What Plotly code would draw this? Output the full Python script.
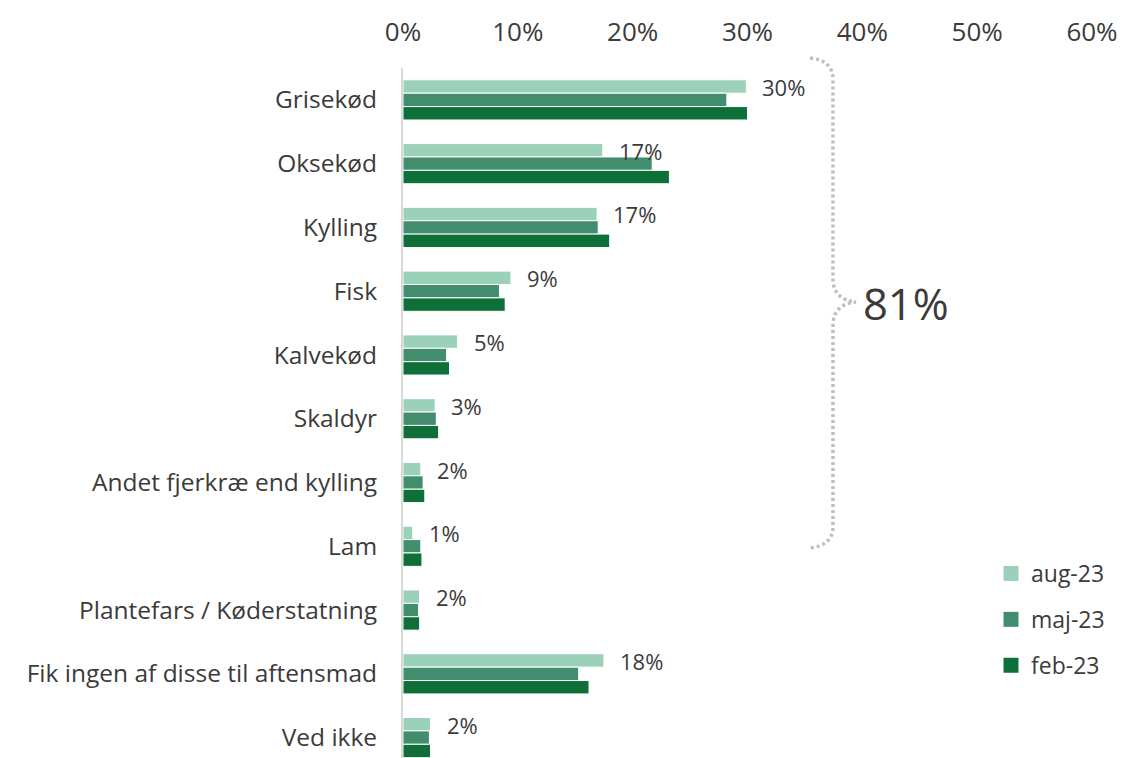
import plotly.graph_objects as go

categories = ["Grisekød", "Oksekød", "Kylling", "Fisk", "Kalvekød", "Skaldyr",
              "Andet fjerkræ end kylling", "Lam", "Plantefars / Køderstatning",
              "Fik ingen af disse til aftensmad", "Ved ikke"]
aug_23 = [29.9, 17.4, 16.9, 9.4, 4.75, 2.8, 1.55, 0.85, 1.45, 17.5, 2.4]
maj_23 = [28.2, 21.7, 17.0, 8.4, 3.8, 2.9, 1.75, 1.55, 1.35, 15.3, 2.3]
feb_23 = [30.0, 23.2, 18.0, 8.9, 4.05, 3.1, 1.9, 1.65, 1.45, 16.2, 2.4]
aug_labels = ["30%", "17%", "17%", "9%", "5%", "3%", "2%", "1%", "2%", "18%", "2%"]
x_ticks = [0, 10, 20, 30, 40, 50, 60]
x_tick_labels = ["0%", "10%", "20%", "30%", "40%", "50%", "60%"]
total_label = "81%"

# page geometry (browser window), page body has an 8px margin
PAGE_W, PAGE_H = 1127, 758
OFF = 8
W, H = PAGE_W - OFF, PAGE_H - OFF
L, R, T, B = 403, 35, 68, 0            # plot area in page pixels
PW, PH = PAGE_W - L - R, PAGE_H - T - B

def px(x):
    return (x - L) / PW

def py(y):
    return (PAGE_H - B - y) / PH

TXT = "#3b3b3b"
FONT = "Open Sans"

fig = go.Figure()
series = [("aug-23", aug_23, "#9bd1b9"), ("maj-23", maj_23, "#438d6f"), ("feb-23", feb_23, "#0e7038")]
for name, vals, col in series:
    fig.add_trace(go.Bar(
        y=categories, x=vals, name=name, orientation="h",
        marker=dict(color=col, line=dict(color="white", width=1)),
        showlegend=False,
    ))
for name, vals, col in series:
    fig.add_trace(go.Scatter(
        x=[None], y=[None], mode="markers", name=name, legendgroup=name,
        marker=dict(symbol="square", size=15, color=col),
    ))

for cat, v, lab in zip(categories, aug_23, aug_labels):
    fig.add_annotation(x=v, y=cat, text=lab, showarrow=False, xanchor="left",
                       xshift=14, yshift=13, font=dict(size=22, color=TXT, family=FONT))

fig.add_annotation(x=px(906), y=py(303), xref="paper", yref="paper", text=total_label,
                   xanchor="center", yanchor="middle",
                   showarrow=False, font=dict(size=43.5, color=TXT, family=FONT))

brace = (f"M {px(810)},{py(58)} Q {px(833)},{py(60)} {px(833)},{py(80)} "
         f"L {px(833)},{py(280)} Q {px(834)},{py(300)} {px(856)},{py(302)} "
         f"Q {px(834)},{py(304)} {px(833)},{py(324)} "
         f"L {px(833)},{py(527)} Q {px(833)},{py(545)} {px(810)},{py(548)}")
fig.add_shape(type="path", path=brace, xref="paper", yref="paper",
              line=dict(color="#bfbfbf", width=3.5, dash="3px,3px"))

fig.update_layout(
    width=W, height=H,
    margin=dict(l=L - OFF, r=R, t=T - OFF, b=B, pad=0, autoexpand=False),
    paper_bgcolor="white", plot_bgcolor="white",
    barmode="group", bargap=0.37, bargroupgap=0,
    font=dict(family=FONT, color=TXT, size=22),
    legend=dict(x=(991 - OFF) / W, y=(H - (552 - OFF)) / H, xref="container", yref="container",
                xanchor="left", yanchor="top",
                font=dict(size=23, color=TXT, family=FONT),
                traceorder="grouped", tracegroupgap=13, itemwidth=30,
                bgcolor="rgba(0,0,0,0)"),
    showlegend=True,
)
fig.update_xaxes(range=[0, 60], side="top", tickvals=x_ticks, ticktext=x_tick_labels,
                 showgrid=False, zeroline=False, showline=False, automargin=False,
                 tickfont=dict(size=26, color=TXT, family=FONT), ticklabelstandoff=21)
fig.update_yaxes(range=[10.32, -0.5], showgrid=False, zeroline=False, automargin=False,
                 showline=True, linecolor="#d9d9d6", linewidth=2,
                 tickfont=dict(size=24.5, color=TXT, family=FONT), ticklabelstandoff=19)

fig.write_html("out.html")
